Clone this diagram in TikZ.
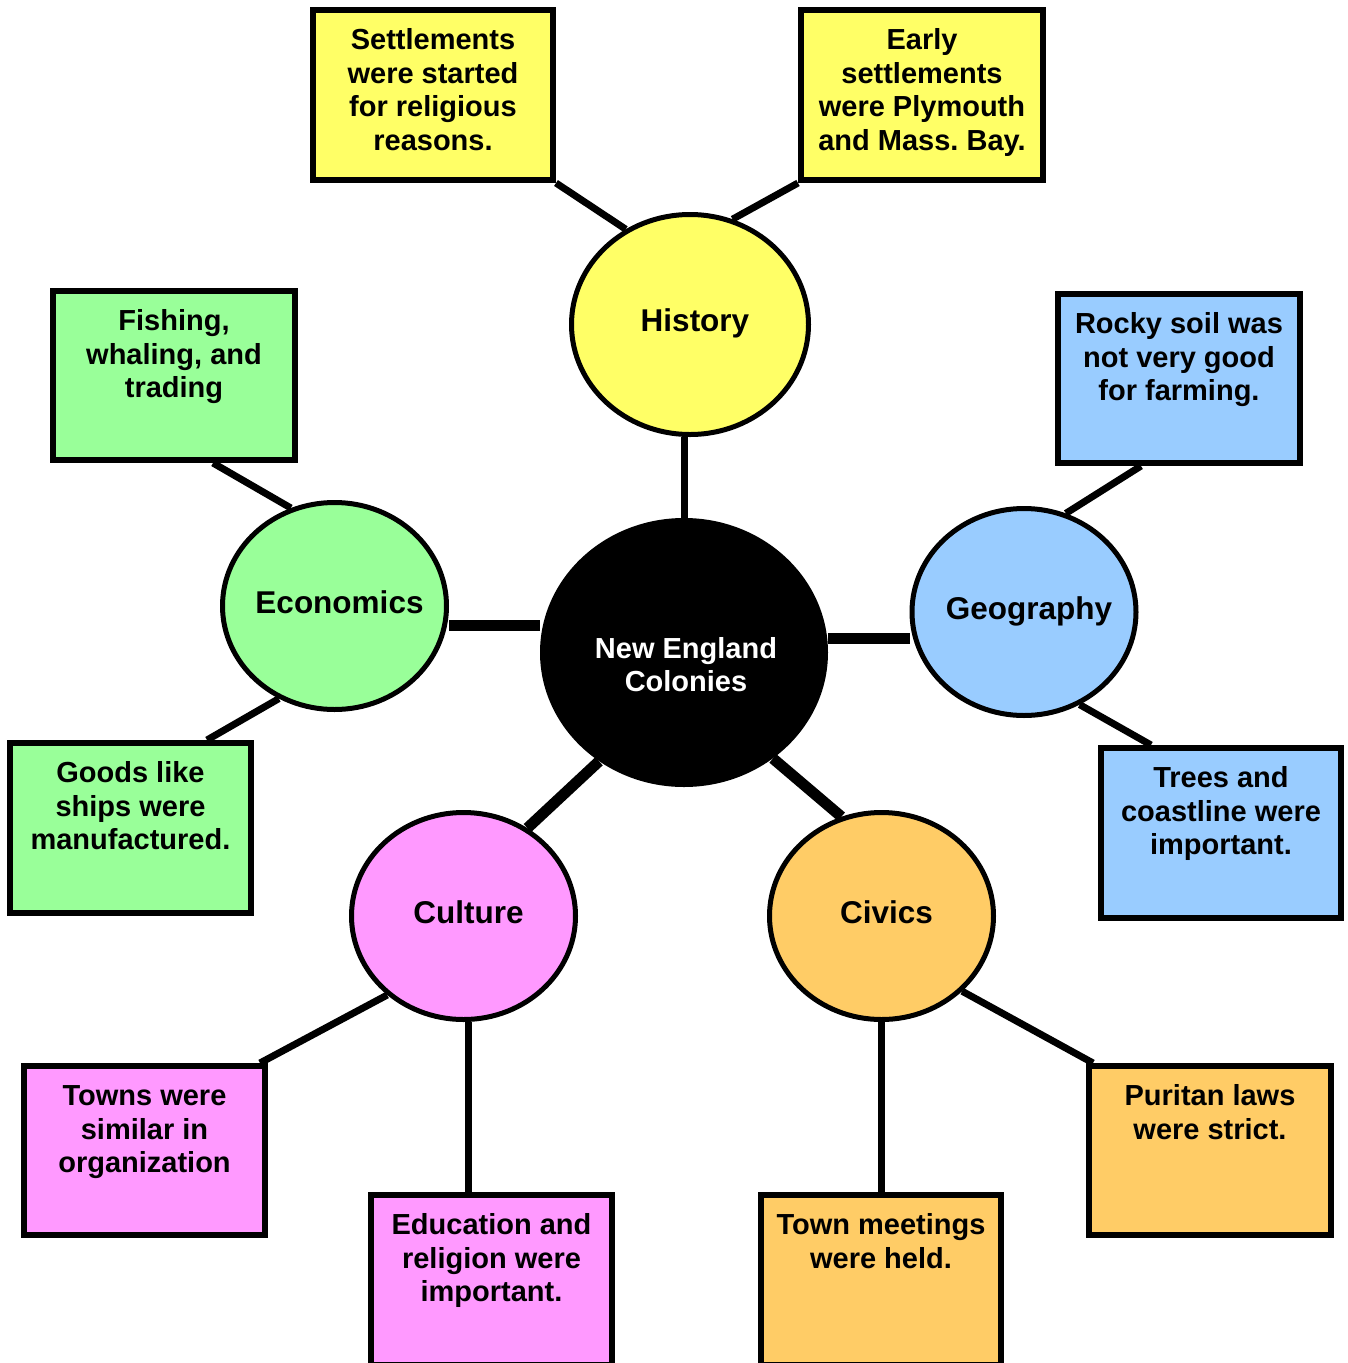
\documentclass[tikz,border=0pt]{standalone}
\usepackage{fontspec}
\setmainfont{Liberation Sans}
\frenchspacing
\usetikzlibrary{shapes.geometric,backgrounds}
\definecolor{cyel}{HTML}{FFFF66}
\definecolor{cgrn}{HTML}{99FF99}
\definecolor{cblu}{HTML}{99CCFF}
\definecolor{cpnk}{HTML}{FF99FF}
\definecolor{corg}{HTML}{FFCC66}
\tikzset{
  circ/.style={ellipse, draw=black, line width=5pt, inner sep=0pt, minimum width=224pt, minimum height=207pt},
  lab/.style={font=\fontsize{31.5}{36}\selectfont\bfseries, inner sep=0pt, text height=22.5pt, text depth=0pt, xshift=5pt, yshift=4pt},
  boxn/.style={rectangle, draw=black, line width=6pt, inner sep=0pt},
  conn/.style={line width=7pt},
  bconn/.style={line width=11pt},
}
\newcommand{\boxtext}[3]{\parbox[t][#2][t]{#1}{\centering\fontsize{29}{33.5}\selectfont\bfseries\rule{0pt}{39.5pt}#3}}
\begin{document}
\begin{tikzpicture}[x=1pt,y=-1pt]
\useasboundingbox (0,0) rectangle (1348,1363);
% central node
\node[ellipse, fill=black, inner sep=0pt, minimum width=288pt, minimum height=269pt,
      label={[font=\fontsize{29}{33}\selectfont\bfseries, text=white, align=center, inner sep=0pt, xshift=2pt, yshift=-12.5pt]center:New England\\Colonies}] (nec) at (684,652.5) {};
% topic circles
\node[circ, fill=cyel, minimum width=237pt, minimum height=220pt, label={[lab]center:History}] (hist) at (690,324.5) {};
\node[circ, fill=cgrn, label={[lab]center:Economics}] (econ) at (334.5,606) {};
\node[circ, fill=cblu, label={[lab]center:Geography}] (geo) at (1024,612) {};
\node[circ, fill=cpnk, label={[lab]center:Culture}] (cult) at (463.5,916) {};
\node[circ, fill=corg, label={[lab]center:Civics}] (civ) at (881.5,916) {};
% detail boxes
\node[boxn, fill=cyel] (settle) at (433,95) {\boxtext{240pt}{170pt}{Settlements\\were started\\for religious\\reasons.}};
\node[boxn, fill=cyel] (early) at (922,95) {\boxtext{242pt}{170pt}{Early\\settlements\\were Plymouth\\and Mass. Bay.}};
\node[boxn, fill=cgrn] (fish) at (174,375.5) {\boxtext{242pt}{169pt}{Fishing,\\whaling, and\\trading}};
\node[boxn, fill=cblu] (rocky) at (1179,378.5) {\boxtext{242pt}{169pt}{Rocky soil was\\not very good\\for farming.}};
\node[boxn, fill=cgrn] (goods) at (130.5,828) {\boxtext{241pt}{170pt}{Goods like\\ships were\\manufactured.}};
\node[boxn, fill=cblu] (trees) at (1221,833) {\boxtext{240pt}{170pt}{Trees and\\coastline were\\important.}};
\node[boxn, fill=cpnk] (towns) at (144.5,1150.5) {\boxtext{241pt}{169pt}{Towns were\\similar in\\organization}};
\node[boxn, fill=cpnk] (edu) at (491.5,1280) {\boxtext{241pt}{170pt}{Education and\\religion were\\important.}};
\node[boxn, fill=corg] (meet) at (881,1280) {\boxtext{240pt}{170pt}{Town meetings\\were held.}};
\node[boxn, fill=corg] (pur) at (1210,1150.5) {\boxtext{242pt}{169pt}{Puritan laws\\were strict.}};
% connectors
\begin{scope}[on background layer]
\fill[white] (0,0) rectangle (1348,1363);
\draw[conn] (hist.124) -- (settle.south east);
\draw[conn] (hist.68) -- (early.south west);
\draw[conn] (nec.north) -- (nec.north |- hist.south);
\draw[bconn] ([yshift=27.5pt]nec.west) -- ([yshift=-19pt]econ.east);
\draw[bconn] ([yshift=14.5pt]nec.east) -- ([yshift=-26pt]geo.west);
\draw[bconn] (nec.232.5) -- (cult.54);
\draw[bconn] (nec.310) -- (civ.112);
\draw[conn] (econ.114) -- ([xshift=39pt]fish.south);
\draw[conn] (econ.239) -- ([xshift=76.5pt]goods.north);
\draw[conn] (geo.67) -- ([xshift=-38pt]rocky.south);
\draw[conn] (geo.301) -- ([xshift=-70pt]trees.north);
\draw[conn] (cult.226) -- ([xshift=-8pt]towns.north east);
\draw[conn] ([xshift=4.5pt]cult.south) -- ([xshift=4.5pt]cult.south |- edu.north);
\draw[conn] (civ.south) -- (civ.south |- meet.north);
\draw[conn] (civ.317) -- ([xshift=7pt]pur.north west);
\end{scope}
\end{tikzpicture}
\end{document}
